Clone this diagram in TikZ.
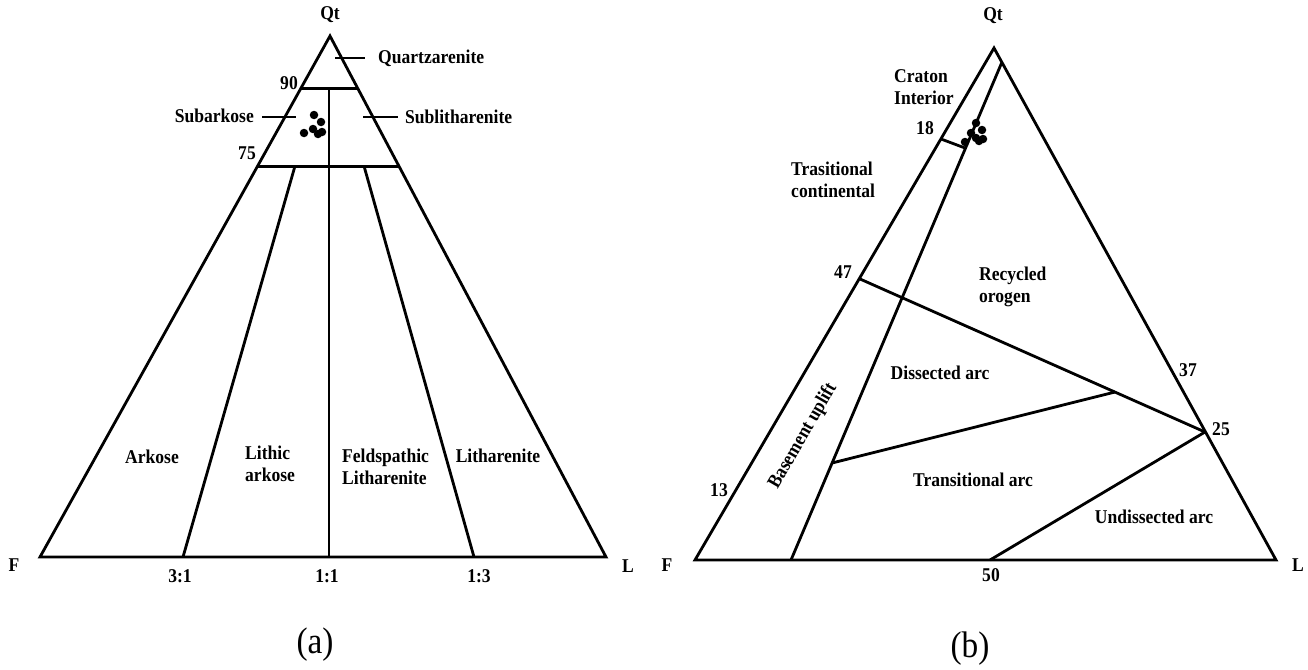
\documentclass[tikz,border=0pt]{standalone}
\usepackage{fontspec}
\setmainfont{Liberation Serif}[FakeStretch=0.9]
\usetikzlibrary{calc}
\begin{document}
\begin{tikzpicture}[x=1pt,y=-1pt,
  edge/.style={line width=2.8pt,line join=miter,line cap=butt},
  lab/.style={font=\fontsize{19.5}{22}\selectfont\bfseries,inner sep=0pt,align=left},
  capt/.style={font=\fontsize{37}{40}\selectfont,inner sep=0pt},
  dot/.style={circle,fill=black,inner sep=0pt,minimum size=8.5pt}]
\useasboundingbox (0,0) rectangle (1308,669);
% ---------------- (a) ----------------
\coordinate (QA) at (330,36);
\coordinate (FA) at (40,557);
\coordinate (LA) at (606,557);
\coordinate (a90l) at ($(QA)!0.1!(FA)$);
\coordinate (a90r) at ($(QA)!0.1!(LA)$);
\coordinate (a75l) at ($(QA)!0.25!(FA)$);
\coordinate (a75r) at ($(QA)!0.25!(LA)$);
\coordinate (m90) at (329,88);
\coordinate (mB) at (329,557);
\coordinate (t31) at (295,166);
\coordinate (b31) at (183,557);
\coordinate (t13) at (364,166);
\coordinate (b13) at (474,557);
\draw[edge] (QA) -- (FA) -- (LA) -- cycle;
\draw[edge] (a90l) -- (a90r);
\draw[edge] (a75l) -- (a75r);
\draw[edge] (m90) -- (mB);
\draw[edge] (t31) -- (b31);
\draw[edge] (t13) -- (b13);
% ticks
\coordinate (tq1) at (335,58); \coordinate (tq2) at (365,58);
\coordinate (ts1) at (262,117); \coordinate (ts2) at (296,117);
\coordinate (tl1) at (363,117); \coordinate (tl2) at (398,117);
\draw[edge] (tq1) -- (tq2);
\draw[edge] (ts1) -- (ts2);
\draw[edge] (tl1) -- (tl2);
% dots
\foreach \p [count=\i] in {(314,115),(321,122),(304,133),(313,129),(318,134),(322,132)}
  \node[dot] (da\i) at \p {};
% labels
\node[lab] (aQt) at (330,15) {Qt};
\node[lab,anchor=west] (aQz) at (378,58) {Quartzarenite};
\node[lab,anchor=east] (aSa) at (254,116) {Subarkose};
\node[lab,anchor=west] (aSl) at (405,117) {Sublitharenite};
\node[lab] (a90) at (289,83) {90};
\node[lab] (a75) at (247,153) {75};
\node[lab] (aAr) at (152,457) {Arkose};
\node[lab,anchor=west] (aLa) at (245,464) {Lithic\\arkose};
\node[lab,anchor=west] (aFl) at (342,467) {Feldspathic\\Litharenite};
\node[lab] (aLi) at (498,456) {Litharenite};
\node[lab] (aF) at (14,565) {F};
\node[lab] (aL) at (628,566) {L};
\node[lab] (a31) at (180,576) {3:1};
\node[lab] (a11) at (327,576) {1:1};
\node[lab] (a13) at (479,576) {1:3};
\node[capt] (capa) at (315,645) {(a)};
% ---------------- (b) ----------------
\coordinate (QB) at (994,48);
\coordinate (FB) at (695,560);
\coordinate (LB) at (1276,560);
\coordinate (iT) at (1002,62);
\coordinate (iB) at (791,560);
\coordinate (p18a) at (941,139);
\coordinate (p18b) at (965,148);
\coordinate (p47) at (860,279);
\coordinate (p25) at (1205,432);
\coordinate (pJ) at (1115,392);
\coordinate (pK) at (832,463);
\coordinate (p50) at (990,560);
\draw[edge] (QB) -- (FB) -- (LB) -- cycle;
\draw[edge] (iT) -- (iB);
\draw[edge] (p18a) -- (p18b);
\draw[edge] (p47) -- (p25);
\draw[edge] (pJ) -- (pK);
\draw[edge] (p25) -- (p50);
\foreach \p [count=\i] in {(976,123),(982,130),(971,133),(976,138),(965,142),(979,141),(983,139)}
  \node[dot] (db\i) at \p {};
\node[lab] (bQt) at (993,16) {Qt};
\node[lab,anchor=west] (bCi) at (894,87.5) {Craton\\Interior};
\node[lab] (b18) at (925,128) {18};
\node[lab,anchor=west] (bTc) at (791,179.5) {Trasitional\\continental};
\node[lab] (b47) at (843,272) {47};
\node[lab,anchor=west] (bRo) at (979,287) {Recycled\\orogen};
\node[lab] (bDa) at (940,373) {Dissected arc};
\node[lab,rotate=60] (bBu) at (803,436) {Basement uplift};
\node[lab] (b13) at (719,490) {13};
\node[lab] (bTa) at (973,480) {Transitional arc};
\node[lab] (bUa) at (1154,517) {Undissected arc};
\node[lab] (b37) at (1188,370) {37};
\node[lab] (b25) at (1221,429) {25};
\node[lab] (bF) at (667,565) {F};
\node[lab] (bL) at (1298,565) {L};
\node[lab] (b50) at (991,575) {50};
\node[capt] (capb) at (970,649) {(b)};
\end{tikzpicture}
\end{document}
